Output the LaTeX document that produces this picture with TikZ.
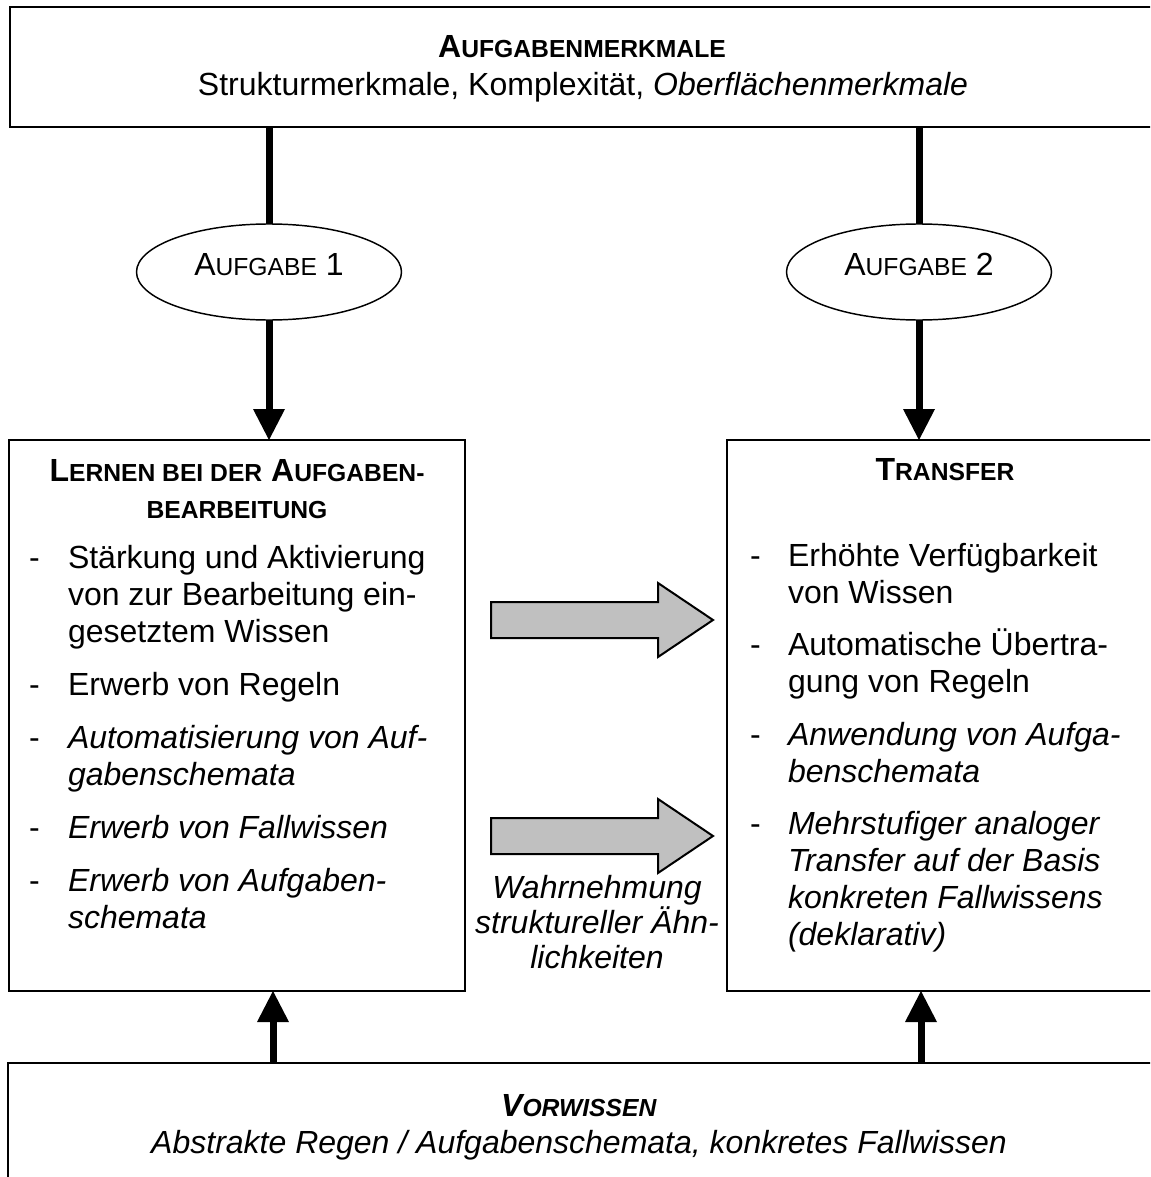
\documentclass[tikz,border=0pt]{standalone}
\usepackage{fontspec}
\setmainfont{Liberation Sans}
\usetikzlibrary{arrows.meta,shapes.geometric}
\definecolor{arrgray}{HTML}{C0C0C0}
\newcommand\smc[1]{{\fontsize{18.5pt}{20pt}\selectfont #1}}
\tikzset{
  every node/.style={inner sep=0pt, outer sep=0pt},
  box/.style={draw, rectangle, line width=1.6pt, anchor=north west},
  task/.style={draw, ellipse, line width=1.1pt, minimum width=198.75pt, minimum height=72pt, fill=white},
  conn/.style={line width=5.25pt},
  tip/.style={-{Triangle[length=23.25pt, width=24pt, line width=0pt]}},
  txt/.style={anchor=base, font=\fontsize{24pt}{27.75pt}\selectfont},
  ltxt/.style={anchor=base west, font=\fontsize{24pt}{27.75pt}\selectfont},
  bigarrow/.style={fill=arrgray, draw=black, line width=1.5pt, line join=miter},
}
\begin{document}
\begin{tikzpicture}[x=0.75pt,y=-0.75pt]
\useasboundingbox (0,0) rectangle (1150,1177);
\clip (0,0) rectangle (1150,1177);
\fill[white] (0,0) rectangle (1150,1177);

% boxes
\node[box, minimum width=858.75pt, minimum height=90pt] (top) at (10,7) {};
\node[box, minimum width=342pt, minimum height=413.25pt] (lern) at (9,440) {};
\node[box, minimum width=327pt, minimum height=413.25pt] (trans) at (727,440) {};
\node[box, minimum width=860.25pt, minimum height=97.5pt] (vor) at (8,1063) {};

% ellipses
\node[task] (a1) at (269,272) {};
\node[task] (a2) at (919,272) {};
\node[txt] (a1t) at (269,275) {A\smc{UFGABE} 1};
\node[txt] (a2t) at (919,275) {A\smc{UFGABE} 2};

% connectors
\draw[conn] (top.south -| a1.center) -- (a1.north);
\draw[conn] (top.south -| a2.center) -- (a2.north);
\draw[conn, tip] (a1.south) -- (a1.south |- lern.north);
\draw[conn, tip] (a2.south) -- (a2.south |- trans.north);
\coordinate (v1) at (273,1063);
\coordinate (v2) at (921,1063);
\draw[conn, tip] (v1) -- (v1 |- lern.south);
\draw[conn, tip] (v2) -- (v2 |- trans.south);

% grey arrows
\draw[bigarrow] (491,602) -- (658,602) -- (658,583) -- (713,620) -- (658,657) -- (658,638) -- (491,638) -- cycle;
\draw[bigarrow] (491,818) -- (658,818) -- (658,799) -- (713,836) -- (658,873) -- (658,854) -- (491,854) -- cycle;

% top text
\node[txt] (t1) at (582,58) {\textbf{A\smc{UFGABENMERKMALE}}};
\node[txt] (t2) at (583,96) {Strukturmerkmale, Komplexität, \textit{Oberflächenmerkmale}};

% left box
\node[txt] (l1) at (237,481) {\textbf{L\smc{ERNEN BEI DER} A\smc{UFGABEN-}}};
\node[txt] (l2) at (237,518) {\textbf{\smc{BEARBEITUNG}}};
\foreach \y in {568,695,748,838,891} {\node[ltxt] (ld\y) at (29,\y) {-};}
\node[ltxt] (l3) at (68,568) {Stärkung und Aktivierung};
\node[ltxt] (l4) at (68,605) {von zur Bearbeitung ein-};
\node[ltxt] (l5) at (68,642) {gesetztem Wissen};
\node[ltxt] (l6) at (68,695) {Erwerb von Regeln};
\node[ltxt] (l7) at (68,748) {\textit{Automatisierung von Auf-}};
\node[ltxt] (l8) at (68,785) {\textit{gabenschemata}};
\node[ltxt] (l9) at (68,838) {\textit{Erwerb von Fallwissen}};
\node[ltxt] (l10) at (68,891) {\textit{Erwerb von Aufgaben-}};
\node[ltxt] (l11) at (68,928) {\textit{schemata}};

% right box
\node[txt] (r1) at (945,480) {\textbf{T\smc{RANSFER}}};
\foreach \y in {566,655,745,834} {\node[ltxt] (rd\y) at (750,\y) {-};}
\node[ltxt] (r2) at (788,566) {Erhöhte Verfügbarkeit};
\node[ltxt] (r3) at (788,603) {von Wissen};
\node[ltxt] (r4) at (788,655) {Automatische Übertra-};
\node[ltxt] (r5) at (788,692) {gung von Regeln};
\node[ltxt] (r6) at (788,745) {\textit{Anwendung von Aufga-}};
\node[ltxt] (r7) at (788,782) {\textit{benschemata}};
\node[ltxt] (r8) at (788,834) {\textit{Mehrstufiger analoger}};
\node[ltxt] (r9) at (788,871) {\textit{Transfer auf der Basis}};
\node[ltxt] (r10) at (788,908) {\textit{konkreten Fallwissens}};
\node[ltxt] (r11) at (788,945) {\textit{(deklarativ)}};

% middle label
\node[txt] (m1) at (597,898) {\textit{Wahrnehmung}};
\node[txt] (m2) at (597,933) {\textit{struktureller Ähn-}};
\node[txt] (m3) at (597,968) {\textit{lichkeiten}};

% bottom text
\node[txt] (b1) at (579,1116) {\textbf{\textit{V\smc{ORWISSEN}}}};
\node[txt] (b2) at (579,1153) {\textit{Abstrakte Regen / Aufgabenschemata, konkretes Fallwissen}};
\end{tikzpicture}
\end{document}
